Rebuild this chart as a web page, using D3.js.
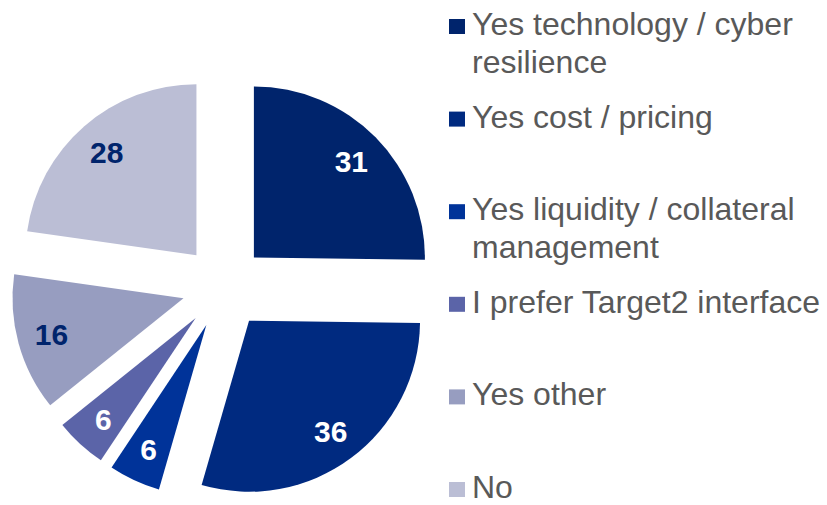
<!DOCTYPE html>
<html>
<head>
<meta charset="utf-8">
<script src="https://cdn.jsdelivr.net/npm/d3@7"></script>
<style>
  body { margin: 0; background: #fff; }
  svg { display: block; font-family: "Liberation Sans", Arial, sans-serif; }
</style>
</head>
<body>
<script>
let width = 827;
let height = 505;

// data
let categories = ["Yes technology / cyber resilience", "Yes cost / pricing", "Yes liquidity / collateral management", "I prefer Target2 interface", "Yes other", "No"];
let legendLines = [["Yes technology / cyber", "resilience"], ["Yes cost / pricing"], ["Yes liquidity / collateral", "management"], ["I prefer Target2 interface"], ["Yes other"], ["No"]];
let values = [31, 36, 6, 6, 16, 28];
let colors = ["#00246c", "#002a80", "#003399", "#5b64a8", "#979dc0", "#bbbed5"];
let labelColors = ["#fff", "#fff", "#fff", "#fff", "#00246c", "#00246c"];

let svg = d3.select("body").append("svg").attr("width", width).attr("height", height);

let cx = 224, cy = 287;
let radius = 171;
let explode = 42;
let labelR = 137;

let pie = d3.pie().sort(null).value(d => d.value);
let arc = d3.arc().innerRadius(0).outerRadius(radius);
let data = pie(values.map((v, i) => ({value: v, i: i})));

let g = svg.append("g").attr("transform", "translate(" + cx + "," + cy + ")");

let offset = (d, r) => {
  let a = (d.startAngle + d.endAngle) / 2;
  return [Math.sin(a) * r, -Math.cos(a) * r];
};

let slices = g.selectAll(".slice").data(data).enter().append("g")
  .attr("class", "slice")
  .attr("transform", d => "translate(" + offset(d, explode) + ")");

slices.append("path")
  .attr("d", arc)
  .attr("fill", d => colors[d.data.i]);

slices.append("text")
  .attr("x", d => offset(d, labelR)[0])
  .attr("y", d => offset(d, labelR)[1])
  .attr("dy", "0.36em")
  .attr("text-anchor", "middle")
  .attr("font-size", 30)
  .attr("font-weight", "bold")
  .attr("fill", d => labelColors[d.data.i])
  .text(d => d.data.value);

// legend
let legendY = d3.scaleLinear().domain([0, categories.length - 1]).range([19, 482]);
let legend = svg.append("g");
let items = legend.selectAll(".item").data(categories).enter().append("g")
  .attr("class", "item")
  .attr("transform", (d, i) => "translate(449," + legendY(i) + ")");

items.append("rect")
  .attr("width", 16).attr("height", 15)
  .attr("fill", (d, i) => colors[i]);

items.append("text")
  .attr("x", 23)
  .attr("y", 16)
  .attr("font-size", 32)
  .attr("fill", "#595959")
  .selectAll("tspan").data((d, i) => legendLines[i]).enter().append("tspan")
  .attr("x", 23)
  .attr("dy", (d, j) => j === 0 ? 0 : 38)
  .text(d => d);
</script>
</body>
</html>
